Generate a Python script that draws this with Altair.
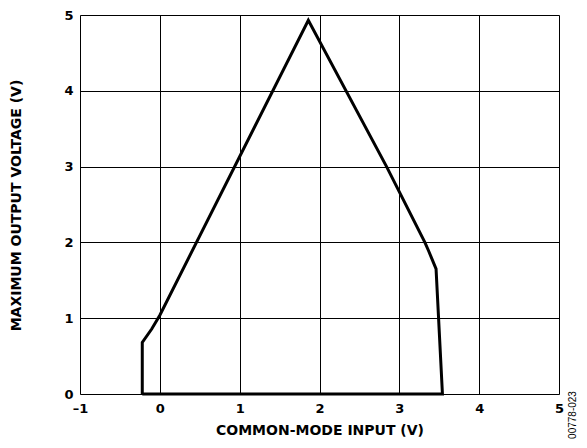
import altair as alt
import pandas as pd

# boundary of the operating region (common-mode input vs max output)
cm_input = [-0.22, -0.22, -0.10, 0.00, 1.86, 2.84, 3.32, 3.37, 3.46, 3.54, -0.22]
max_output = [0.00, 0.68, 0.86, 1.04, 4.93, 3.00, 2.00, 1.88, 1.65, 0.00, 0.00]
x_ticks = [-1, 0, 1, 2, 3, 4, 5]
y_ticks = [0, 1, 2, 3, 4, 5]
fig_id = ["00778-023"]

df = pd.DataFrame({"x": cm_input, "y": max_output, "order": list(range(len(cm_input)))})
FONT = "DejaVu Sans"
FS = 13

line = alt.Chart(df).mark_line(color="black", strokeWidth=3, clip=False, strokeJoin="miter").encode(
    x=alt.X("x:Q", scale=alt.Scale(domain=[-1, 5], nice=False, zero=False),
            axis=alt.Axis(values=x_ticks, title="COMMON-MODE INPUT (V)",
                          labelExpr="datum.value < 0 ? '–' + abs(datum.value) : datum.label",
                          grid=True, gridColor="black", gridWidth=1, gridOpacity=1,
                          domain=False, ticks=False, labelPadding=8, labelFlush=False,
                          labelOverlap=False,
                          labelFont=FONT, labelFontSize=FS, labelFontWeight="bold", labelColor="black",
                          titleFont=FONT, titleFontSize=14, titleFontWeight="bold", titleColor="black",
                          titlePadding=8)),
    y=alt.Y("y:Q", scale=alt.Scale(domain=[0, 5], nice=False),
            axis=alt.Axis(values=y_ticks, title="MAXIMUM OUTPUT VOLTAGE (V)",
                          grid=True, gridColor="black", gridWidth=1, gridOpacity=1,
                          domain=False, ticks=False, labelPadding=7, labelFlush=False,
                          labelOverlap=False,
                          labelFont=FONT, labelFontSize=FS, labelFontWeight="bold", labelColor="black",
                          titleFont=FONT, titleFontSize=14, titleFontWeight="bold", titleColor="black",
                          titleAngle=270, titleBaseline="middle", titleAlign="center",
                          titleX=-64, titleY=190)),
    order="order:Q",
)

label = alt.Chart(pd.DataFrame({"t": fig_id})).mark_text(
    angle=270, font="Liberation Sans", fontSize=10, color="black", align="center", baseline="middle"
).encode(text="t:N", x=alt.value(493), y=alt.value(400))

chart = alt.layer(line, label).properties(
    width=479, height=379,
    autosize=alt.AutoSizeParams(type="none"),
    padding={"left": 72, "top": 7, "right": 20, "bottom": 46},
).configure_view(stroke="black", strokeWidth=2).configure(background="white")

chart.save("out.html", embed_options={"renderer": "svg", "actions": False})
